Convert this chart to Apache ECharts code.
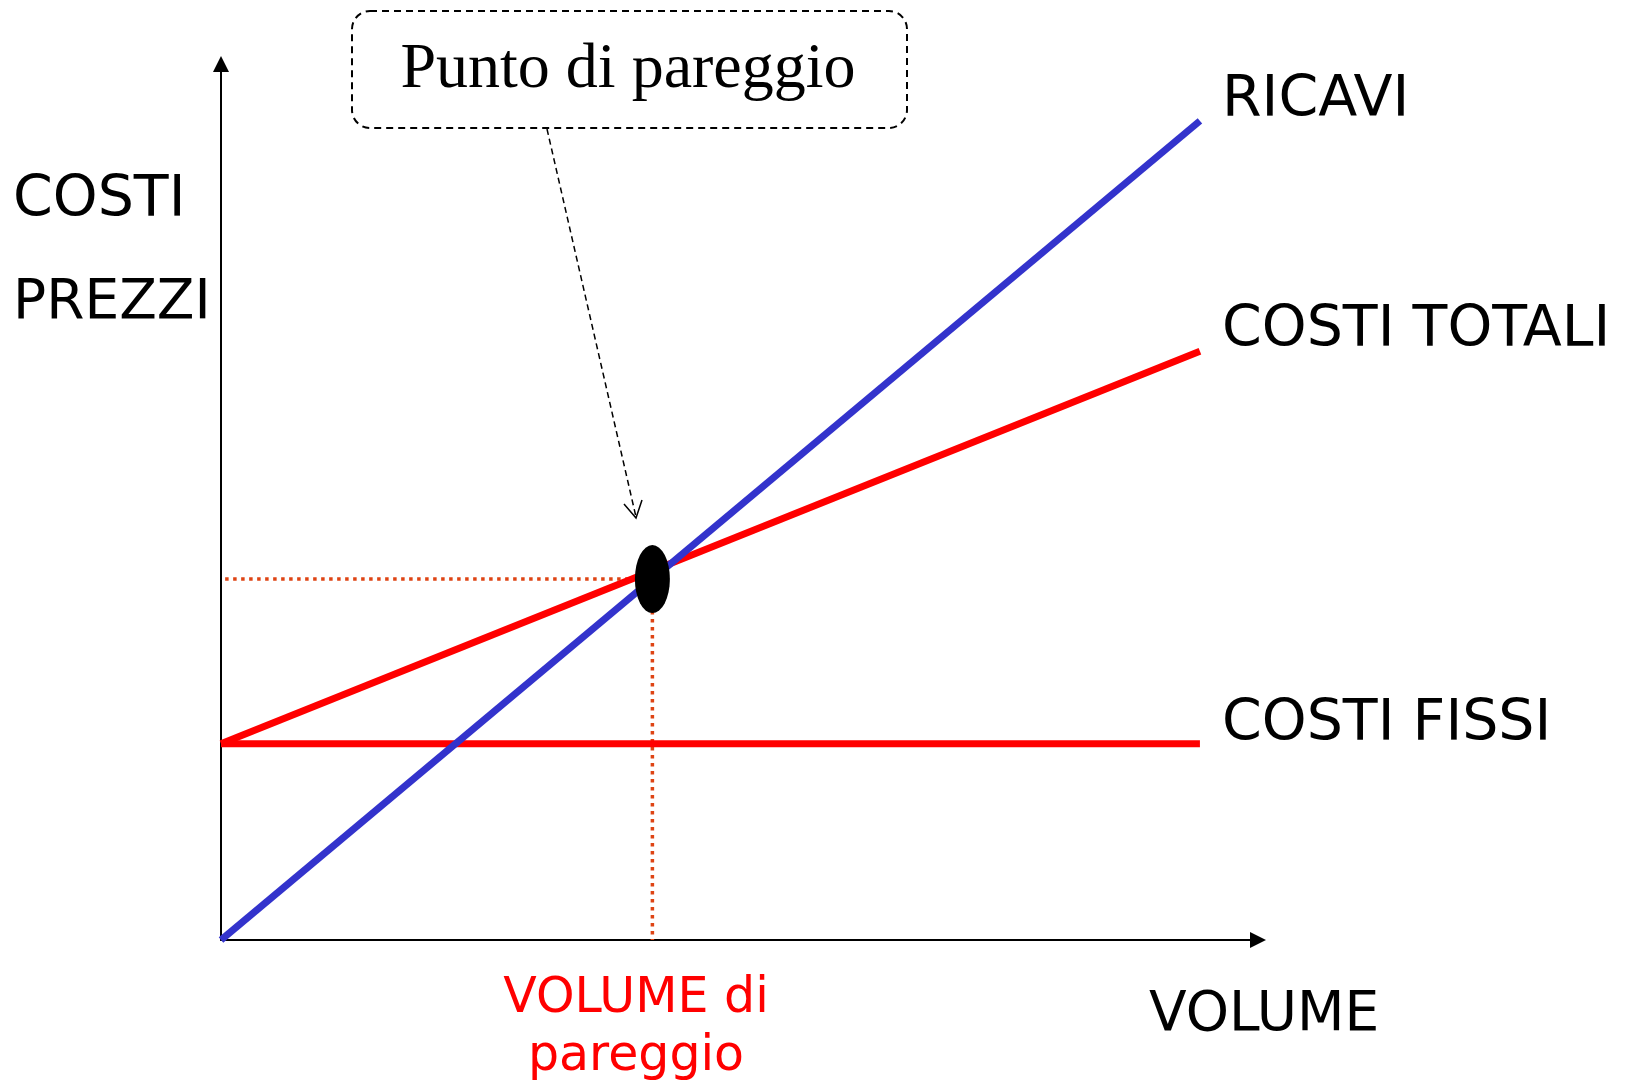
<!DOCTYPE html>
<html>
<head>
<meta charset="utf-8">
<title>Punto di pareggio</title>
<script src="https://cdn.jsdelivr.net/npm/echarts@6/dist/echarts.min.js"></script>
<style>
html,body{margin:0;padding:0;background:#fff;}
#main{width:1633px;height:1081px;}
</style>
</head>
<body>
<div id="main"></div>
<script>
// dati (scala 0-100 su entrambi gli assi)
var volumi = [0, 94.4];
var ricavi = [0, 93.5];
var costiTotali = [22.4, 67.2];
var costiFissi = [22.4, 22.4];
var puntoPareggio = [41.6, 41.2]; // volume, costo
var etichette = ['RICAVI', 'COSTI TOTALI', 'COSTI FISSI'];

var FONT = '"DejaVu Sans", sans-serif';

/**
 * costruisce le coppie [x,y] per una retta
 */
function coppie(xs, ys){
	var out = [];
	for(var i=0;i<xs.length;i++){
		out.push([xs[i], ys[i]]);
	}
	return out;
}

/**
 * testo semplice
 */
function testo(t, x, y, size, color, align){
	return {
		type: 'text',
		x: x,
		y: y,
		silent: true,
		style: {
			text: t,
			font: size + 'px ' + FONT,
			fill: color || '#000',
			textAlign: align || 'left',
			textVerticalAlign: 'middle'
		}
	};
}

function buildEchart(){
	var myChart = echarts.init(document.getElementById('main'));

	var asse = {
		type: 'value',
		min: 0,
		max: 100,
		axisLine: {
			show: true,
			symbol: ['none', 'triangle'],
			symbolSize: [16, 16],
			lineStyle: {color: '#000', width: 2}
		},
		axisTick: {show: false},
		axisLabel: {show: false},
		splitLine: {show: false}
	};

	var puntini = {color: '#de4414', width: 3.5, type: [3.5, 4.5], cap: 'butt'};

	var option = {
		animation: false,
		backgroundColor: '#fff',
		grid: {left: 221, right: 375, top: 64, bottom: 141},
		xAxis: asse,
		yAxis: echarts.util.clone(asse),
		series: [
			{ // linee a puntini verso il punto di pareggio
				type: 'line',
				symbol: 'none',
				data: [[0.4, puntoPareggio[1]], [puntoPareggio[0], puntoPareggio[1]]],
				lineStyle: puntini,
				z: 2
			},
			{
				type: 'line',
				symbol: 'none',
				data: [[puntoPareggio[0], puntoPareggio[1]], [puntoPareggio[0], 0]],
				lineStyle: puntini,
				z: 2
			},
			{
				name: etichette[2],
				type: 'line',
				symbol: 'none',
				data: coppie(volumi, costiFissi),
				lineStyle: {color: '#ff0000', width: 7},
				z: 3
			},
			{
				name: etichette[1],
				type: 'line',
				symbol: 'none',
				data: coppie(volumi, costiTotali),
				lineStyle: {color: '#ff0000', width: 7},
				z: 3
			},
			{
				name: etichette[0],
				type: 'line',
				symbol: 'none',
				data: coppie(volumi, ricavi),
				lineStyle: {color: '#3333cc', width: 7},
				z: 4
			},
			{ // punto di pareggio
				type: 'scatter',
				symbol: 'circle',
				symbolSize: [35, 68],
				data: [puntoPareggio],
				itemStyle: {color: '#000', opacity: 1},
				z: 5
			}
		],
		graphic: [
			testo('COSTI', 13, 201, 57),
			testo('PREZZI', 13, 304, 55),
			testo(etichette[0], 1222, 101, 57),
			testo(etichette[1], 1222, 331, 57),
			testo(etichette[2], 1222, 725, 57),
			testo('VOLUME', 1149, 1016, 55),
			testo('VOLUME di', 636, 999, 49, '#ff0000', 'center'),
			testo('pareggio', 636, 1057, 49, '#ff0000', 'center'),
			{ // riquadro del richiamo
				type: 'rect',
				shape: {x: 352, y: 11, width: 555, height: 117, r: 18},
				style: {fill: 'none', stroke: '#000', lineWidth: 2, lineDash: [7, 5]}
			},
			{
				type: 'text',
				x: 628,
				y: 70,
				style: {
					text: 'Punto di pareggio',
					font: '64px "Liberation Serif", serif',
					fill: '#000',
					textAlign: 'center',
					textVerticalAlign: 'middle'
				}
			},
			{ // freccia del richiamo
				type: 'line',
				shape: {x1: 547, y1: 129, x2: 636, y2: 517},
				style: {stroke: '#000', lineWidth: 1.5, lineDash: [6, 4]}
			},
			{
				type: 'polyline',
				shape: {points: [[624, 504], [636, 518], [642, 500]]},
				style: {stroke: '#000', lineWidth: 1.5, fill: 'none'}
			}
		]
	};

	myChart.setOption(option);
}

buildEchart();
</script>
</body>
</html>
